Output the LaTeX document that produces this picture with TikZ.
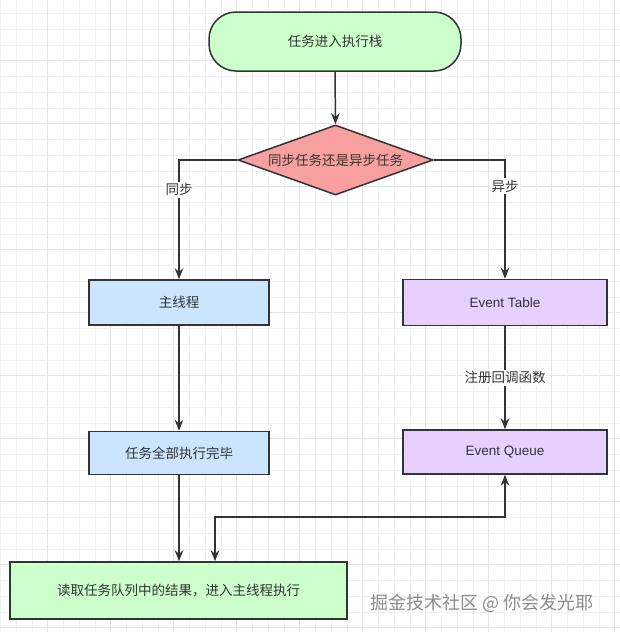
\documentclass[tikz,border=0pt]{standalone}
\usepackage{fontspec}
\setmainfont{Liberation Sans}
\newfontfamily\cjk{Noto Sans CJK SC}
\usetikzlibrary{shapes.geometric,arrows.meta}
\definecolor{edge}{HTML}{333333}
\definecolor{txt}{HTML}{333333}
\definecolor{cgreen}{HTML}{CCFFCC}
\definecolor{cred}{HTML}{F8A0A0}
\definecolor{cblue}{HTML}{CCE5FF}
\definecolor{cpurple}{HTML}{E5D0FF}
\definecolor{gminor}{HTML}{F0F0F0}
\definecolor{gmajor}{HTML}{E4E4E4}
\tikzset{
  box/.style={draw=edge, line width=1.5pt, text=txt, inner sep=0pt, font=\fontsize{13.5}{16}\selectfont},
  cjkbox/.style={box, font=\cjk\fontsize{13.5}{16}\selectfont},
  arr/.style={draw=edge, line width=1.5pt, -{Stealth[length=11pt,width=8.5pt]}},
  arrboth/.style={draw=edge, line width=1.5pt, {Stealth[length=11pt,width=8.5pt]}-{Stealth[length=11pt,width=8.5pt]}},
  lbl/.style={fill=white, text=txt, inner sep=1.5pt, font=\cjk\fontsize{13.5}{16}\selectfont},
}
\begin{document}
\begin{tikzpicture}[x=1pt,y=-1pt]
\useasboundingbox (0,0) rectangle (620,632);
\fill[white] (0,0) rectangle (620,632);
% grid
\foreach \i in {0,...,39} {
  \pgfmathtruncatemacro{\m}{mod(\i,4)}
  \ifnum\m=3 \def\gc{gmajor}\else\def\gc{gminor}\fi
  \draw[\gc, line width=0.8pt] (\i*15.75+0.5,0) -- (\i*15.75+0.5,632);
  \draw[\gc, line width=0.8pt] (0,\i*15.75+13.5) -- (620,\i*15.75+13.5);
}
% nodes
\node[cjkbox, fill=cgreen, rounded corners=27pt, minimum width=252pt, minimum height=59pt] (start) at (335,41.5) {任务进入执行栈};
\node[cjkbox, fill=cred, diamond, shape aspect=2.79, minimum width=195pt, minimum height=70pt] (dec) at (335.5,160) {同步任务还是异步任务};
\node[cjkbox, fill=cblue, minimum width=180pt, minimum height=45pt] (mt) at (179,302.5) {主线程};
\node[cjkbox, fill=cblue, minimum width=180pt, minimum height=43pt] (done) at (179,453) {任务全部执行完毕};
\node[box, fill=cpurple, minimum width=204pt, minimum height=46pt] (et) at (505,302.5) {Event Table};
\node[box, fill=cpurple, minimum width=204pt, minimum height=44pt] (eq) at (505,452) {Event Queue};
\node[cjkbox, fill=cgreen, minimum width=337pt, minimum height=57pt] (read) at (178.5,590.5) {读取任务队列中的结果，进入主线程执行};
\node[text=black!45, font=\cjk\fontsize{18}{20}\selectfont] (wm) at (482,603) {掘金技术社区 @ 你会发光耶};
% connectors
\draw[arr] (start.south) -- (dec.north);
\draw[arr] (dec.west) -| node[lbl, pos=0.625] {同步} (mt.north);
\draw[arr] (dec.east) -| node[lbl, pos=0.61] {异步} (et.north);
\draw[arr] (mt.south) -- (done.north);
\draw[arr] (et.south) -- node[lbl] {注册回调函数} (eq.north);
\draw[arr] (done.south) -- (done.south |- read.north);
\coordinate (j) at (215,517);
\draw[arrboth] (eq.south) |- (j) -- (j |- read.north);
\end{tikzpicture}
\end{document}
